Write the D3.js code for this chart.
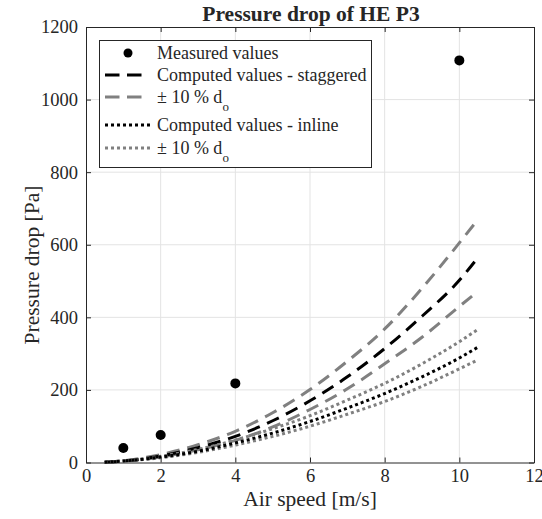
<!DOCTYPE html>
<html>
<head>
<meta charset="utf-8">
<script src="https://cdn.jsdelivr.net/npm/d3@7"></script>
<style>
  body { margin: 0; background: #fff; }
  svg text { font-family: "Liberation Serif", "DejaVu Serif", serif; fill: #262626; }
</style>
</head>
<body>
<div id="chart"></div>
<script>
// measured points
var measuredSpeed = [1, 2, 4, 10];
var measuredDrop = [40, 76, 218, 1108];

// computed curves
var curveSpeed = [0.5, 1, 2, 3, 4, 5, 6, 7, 8, 9, 10, 10.5];
var staggered = [1, 4, 18, 41, 72, 115, 170, 236, 314, 403, 502, 565];
var staggeredHigh = [1, 5, 22, 49, 86, 137, 201, 279, 368, 480, 605, 670];
var staggeredLow = [1, 3, 15, 35, 61, 98, 146, 203, 272, 345, 430, 472];
var inline = [1, 4, 15, 31, 54, 81, 113, 150, 190, 236, 288, 318];
var inlineHigh = [1, 5, 17, 36, 62, 93, 129, 172, 218, 272, 333, 367];
var inlineLow = [1, 4, 13, 28, 48, 72, 100, 133, 168, 210, 258, 283];

var xTicks = [0, 2, 4, 6, 8, 10, 12];
var yTicks = [0, 200, 400, 600, 800, 1000, 1200];

var width = 542, height = 519;
var plotLeft = 86, plotRight = 534, plotTop = 27, plotBottom = 462.5;

var svg = d3.select('#chart').append('svg')
  .attr('width', width)
  .attr('height', height);

var x = d3.scaleLinear().domain([0, 12]).range([plotLeft, plotRight]);
var y = d3.scaleLinear().domain([0, 1200]).range([plotBottom, plotTop]);

// grid
svg.append('g').selectAll('line')
  .data(xTicks.slice(1, -1))
  .enter().append('line')
  .attr('x1', function(d) { return x(d); })
  .attr('x2', function(d) { return x(d); })
  .attr('y1', plotTop).attr('y2', plotBottom)
  .attr('stroke', '#e3e3e3').attr('stroke-width', 1);

svg.append('g').selectAll('line')
  .data(yTicks.slice(1, -1))
  .enter().append('line')
  .attr('y1', function(d) { return y(d); })
  .attr('y2', function(d) { return y(d); })
  .attr('x1', plotLeft).attr('x2', plotRight)
  .attr('stroke', '#e3e3e3').attr('stroke-width', 1);

// axes with inward ticks
var axisColor = '#262626';
function styleAxis(g) {
  g.select('.domain').attr('stroke', axisColor);
  g.selectAll('.tick line').attr('stroke', axisColor);
  g.selectAll('text').style('font-size', '18.5px').attr('fill', axisColor)
    .style('font-family', '"Liberation Serif", serif');
}

svg.append('g')
  .attr('transform', 'translate(0,' + plotBottom + ')')
  .call(d3.axisBottom(x).tickValues(xTicks).tickSizeInner(-5).tickSizeOuter(0).tickPadding(6))
  .call(styleAxis);

svg.append('g')
  .attr('transform', 'translate(0,' + plotTop + ')')
  .call(d3.axisTop(x).tickValues(xTicks).tickSizeInner(-5).tickSizeOuter(0).tickFormat(''))
  .call(styleAxis);

svg.append('g')
  .attr('transform', 'translate(' + plotLeft + ',0)')
  .call(d3.axisLeft(y).tickValues(yTicks).tickSizeInner(-5).tickSizeOuter(0).tickPadding(8).tickFormat(d3.format('d')))
  .call(styleAxis);

svg.append('g')
  .attr('transform', 'translate(' + plotRight + ',0)')
  .call(d3.axisRight(y).tickValues(yTicks).tickSizeInner(-5).tickSizeOuter(0).tickFormat(''))
  .call(styleAxis);

// curves
var line = d3.line()
  .x(function(d) { return x(d[0]); })
  .y(function(d) { return y(d[1]); })
  .curve(d3.curveMonotoneX);

var dashed = '13,8', dotted = '3,3';
var series = [
  { values: staggeredHigh, color: '#808080', dash: dashed },
  { values: staggeredLow, color: '#808080', dash: dashed },
  { values: staggered, color: '#000', dash: dashed },
  { values: inlineHigh, color: '#808080', dash: dotted },
  { values: inlineLow, color: '#808080', dash: dotted },
  { values: inline, color: '#000', dash: dotted }
];

svg.append('g').selectAll('path')
  .data(series)
  .enter().append('path')
  .attr('d', function(s) { return line(curveSpeed.map(function(v, i) { return [v, s.values[i]]; })); })
  .attr('fill', 'none')
  .attr('stroke', function(s) { return s.color; })
  .attr('stroke-width', 3)
  .attr('stroke-dasharray', function(s) { return s.dash; });

svg.append('g').selectAll('circle')
  .data(measuredSpeed)
  .enter().append('circle')
  .attr('cx', function(d) { return x(d); })
  .attr('cy', function(d, i) { return y(measuredDrop[i]); })
  .attr('r', 5)
  .attr('fill', '#000');

// titles
svg.append('text')
  .attr('x', 311).attr('y', 21)
  .attr('text-anchor', 'middle')
  .style('font-size', '21.5px').style('font-weight', 'bold')
  .attr('fill', '#000')
  .text('Pressure drop of HE P3');

svg.append('text')
  .attr('x', 310).attr('y', 506)
  .attr('text-anchor', 'middle')
  .style('font-size', '21.5px')
  .text('Air speed [m/s]');

svg.append('text')
  .attr('transform', 'translate(39,265) rotate(-90)')
  .attr('text-anchor', 'middle')
  .style('font-size', '21.5px')
  .text('Pressure drop [Pa]');

// legend
var legend = svg.append('g');
legend.append('rect')
  .attr('x', 99.5).attr('y', 40.5)
  .attr('width', 272).attr('height', 127)
  .attr('fill', '#fff')
  .attr('stroke', axisColor).attr('stroke-width', 1);

var legendItems = [
  { label: 'Measured values', type: 'dot', cy: 53 },
  { label: 'Computed values - staggered', type: 'line', color: '#000', dash: '14.5,7.5', cy: 75 },
  { label: '\u00b1 10 % d', sub: 'o', type: 'line', color: '#808080', dash: '14.5,7.5', cy: 97 },
  { label: 'Computed values - inline', type: 'line', color: '#000', dash: dotted, cy: 125 },
  { label: '\u00b1 10 % d', sub: 'o', type: 'line', color: '#808080', dash: dotted, cy: 148 }
];

legendItems.forEach(function(d) {
  if (d.type === 'dot') {
    legend.append('circle').attr('cx', 128).attr('cy', d.cy).attr('r', 4.5).attr('fill', '#000');
  } else {
    legend.append('line')
      .attr('x1', 105).attr('x2', d.dash === dotted ? 151 : 142)
      .attr('y1', d.cy).attr('y2', d.cy)
      .attr('stroke', d.color).attr('stroke-width', 3)
      .attr('stroke-dasharray', d.dash);
  }
  var t = legend.append('text')
    .attr('x', 157).attr('y', d.cy + 6)
    .style('font-size', '18px')
    .attr('fill', '#000')
    .text(d.label);
  if (d.sub) {
    t.append('tspan').attr('dy', 8).style('font-size', '13px').text(d.sub);
  }
});
</script>
</body>
</html>
